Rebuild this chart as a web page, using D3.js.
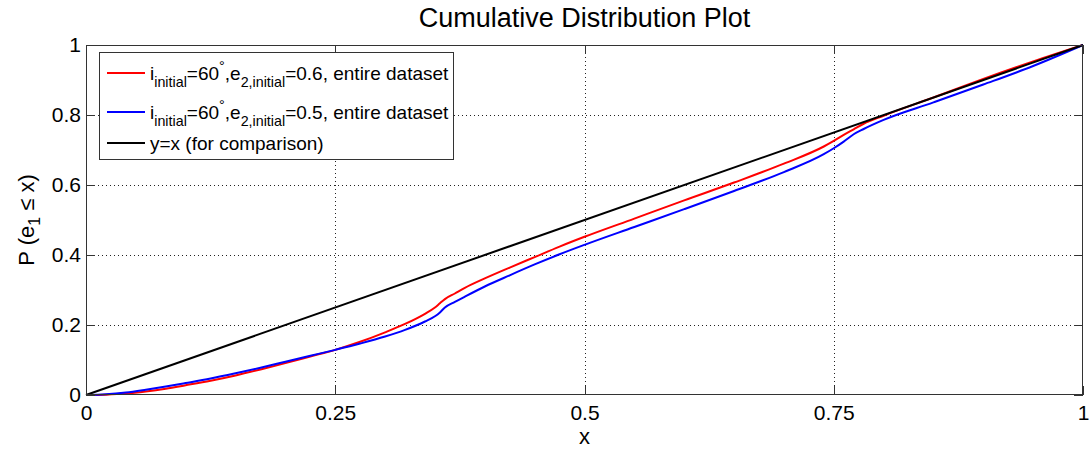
<!DOCTYPE html>
<html>
<head>
<meta charset="utf-8">
<script src="https://cdn.jsdelivr.net/npm/d3@7"></script>
<style>
  html, body { margin: 0; padding: 0; background: #fff; }
  svg { display: block; font-family: "Liberation Sans", Arial, sans-serif; }
</style>
</head>
<body>
<svg id="chart" width="1091" height="453"></svg>
<script>
// Empirical CDF samples of e1 for the two initial configurations
const xs = [0, 0.02, 0.04, 0.06, 0.08, 0.10, 0.125, 0.15, 0.175, 0.20, 0.225, 0.25, 0.275, 0.30, 0.32, 0.34, 0.35, 0.355, 0.36, 0.37, 0.38, 0.40, 0.425, 0.45, 0.475, 0.50, 0.55, 0.60, 0.65, 0.70, 0.74, 0.75, 0.76, 0.77, 0.78, 0.80, 0.85, 0.90, 0.95, 1.0];
const cdfE06 = [0, 0.001, 0.004, 0.010, 0.018, 0.028, 0.041, 0.056, 0.073, 0.091, 0.110, 0.129, 0.152, 0.179, 0.203, 0.232, 0.250, 0.262, 0.274, 0.290, 0.306, 0.333, 0.364, 0.394, 0.424, 0.452, 0.504, 0.556, 0.607, 0.661, 0.710, 0.726, 0.743, 0.759, 0.775, 0.798, 0.850, 0.903, 0.953, 1.0];
const cdfE05 = [0, 0.002, 0.007, 0.015, 0.024, 0.034, 0.047, 0.062, 0.078, 0.095, 0.112, 0.129, 0.147, 0.167, 0.186, 0.210, 0.225, 0.236, 0.250, 0.266, 0.281, 0.310, 0.342, 0.373, 0.402, 0.429, 0.480, 0.531, 0.583, 0.637, 0.688, 0.705, 0.724, 0.745, 0.760, 0.786, 0.836, 0.887, 0.940, 1.0];
const refLine = [0, 1];

const xTicks = [0, 0.25, 0.5, 0.75, 1];
const xTickLabels = ["0", "0.25", "0.5", "0.75", "1"];
const yTicks = [0, 0.2, 0.4, 0.6, 0.8, 1];
const yTickLabels = ["0", "0.2", "0.4", "0.6", "0.8", "1"];

const seriesColors = ["#ff0000", "#0000ff", "#000000"];

const svg = d3.select("#chart");
const W = 1091, H = 453;
const plot = { left: 86, right: 1083, top: 45, bottom: 395 };

svg.append("rect").attr("width", W).attr("height", H).attr("fill", "#fff");

const x = d3.scaleLinear().domain([0, 1]).range([plot.left, plot.right]);
const y = d3.scaleLinear().domain([0, 1]).range([plot.bottom, plot.top]);

// dotted grid
const grid = svg.append("g").attr("stroke", "#222").attr("stroke-width", 1)
  .attr("stroke-dasharray", "1,3").attr("shape-rendering", "crispEdges");
grid.selectAll("line.gx").data(xTicks.slice(1, -1)).join("line")
  .attr("x1", d => Math.round(x(d)) + 0.5).attr("x2", d => Math.round(x(d)) + 0.5)
  .attr("y1", plot.top).attr("y2", plot.bottom);
grid.selectAll("line.gy").data(yTicks.slice(1, -1)).join("line")
  .attr("y1", d => Math.round(y(d)) + 0.5).attr("y2", d => Math.round(y(d)) + 0.5)
  .attr("x1", plot.left).attr("x2", plot.right);

// curves
const line = d3.line().x(d => x(d[0])).y(d => y(d[1])).curve(d3.curveMonotoneX);
const curves = [
  xs.map((v, i) => [v, cdfE06[i]]),
  xs.map((v, i) => [v, cdfE05[i]]),
  refLine.map(v => [v, v])
];
svg.append("g").selectAll("path").data(curves).join("path")
  .attr("d", line)
  .attr("fill", "none")
  .attr("stroke", (d, i) => seriesColors[i])
  .attr("stroke-width", 2)
  .attr("stroke-linejoin", "round");

// axes with inward ticks, mirrored on top and right
const tickFont = 21;
function styleAxis(g) {
  g.select(".domain").remove();
  g.selectAll(".tick line").attr("stroke", "#333").attr("shape-rendering", "crispEdges");
  g.selectAll(".tick text").attr("fill", "#000").attr("font-size", tickFont)
    .attr("font-family", "Liberation Sans, Arial, sans-serif");
}
svg.append("g").attr("transform", `translate(0,${plot.bottom})`)
  .call(d3.axisBottom(x).tickValues(xTicks).tickFormat((d, i) => xTickLabels[i])
    .tickSizeInner(-9).tickSizeOuter(0).tickPadding(10))
  .call(styleAxis);
svg.append("g").attr("transform", `translate(0,${plot.top})`)
  .call(d3.axisTop(x).tickValues(xTicks).tickFormat("").tickSizeInner(-9).tickSizeOuter(0))
  .call(styleAxis);
svg.append("g").attr("transform", `translate(${plot.left},0)`)
  .call(d3.axisLeft(y).tickValues(yTicks).tickFormat((d, i) => yTickLabels[i])
    .tickSizeInner(-9).tickSizeOuter(0).tickPadding(5))
  .call(styleAxis);
svg.append("g").attr("transform", `translate(${plot.right},0)`)
  .call(d3.axisRight(y).tickValues(yTicks).tickFormat("").tickSizeInner(-9).tickSizeOuter(0))
  .call(styleAxis);

// axes box
svg.append("rect")
  .attr("x", plot.left + 0.5).attr("y", plot.top + 0.5)
  .attr("width", plot.right - plot.left - 1).attr("height", plot.bottom - plot.top - 1)
  .attr("fill", "none").attr("stroke", "#333").attr("stroke-width", 1);

// title and axis labels
svg.append("text").attr("x", x(0.5)).attr("y", 27).attr("text-anchor", "middle")
  .attr("font-size", 27).attr("fill", "#000").text("Cumulative Distribution Plot");
svg.append("text").attr("x", x(0.5)).attr("y", 444).attr("text-anchor", "middle")
  .attr("font-size", 22).attr("fill", "#000").text("x");

const yl = svg.append("text").attr("transform", `translate(34,${(plot.top + plot.bottom) / 2}) rotate(-90)`)
  .attr("text-anchor", "middle").attr("font-size", 22).attr("fill", "#000");
yl.append("tspan").text("P (e");
yl.append("tspan").attr("font-size", 16).attr("dy", 6).text("1");
yl.append("tspan").attr("dy", -6).text(" \u2264 x)");

// legend
const legend = { x: 99, y: 52, w: 354, h: 107 };
const lg = svg.append("g");
lg.append("rect").attr("x", legend.x + 0.5).attr("y", legend.y + 0.5)
  .attr("width", legend.w).attr("height", legend.h)
  .attr("fill", "#fff").attr("stroke", "#333").attr("stroke-width", 1);

const legendRows = [
  { e2: "0.6", yLine: 73 },
  { e2: "0.5", yLine: 112 },
  { ref: "y=x (for comparison)", yLine: 143 }
];
const mainFs = 19, subFs = 14.3;
legendRows.forEach((r, i) => {
  lg.append("line").attr("x1", 107).attr("x2", 145)
    .attr("y1", r.yLine).attr("y2", r.yLine)
    .attr("stroke", seriesColors[i]).attr("stroke-width", 2);
  const t = lg.append("text").attr("x", 150).attr("y", r.yLine + 7)
    .attr("font-size", mainFs).attr("fill", "#000");
  if (r.ref) {
    t.text(r.ref);
  } else {
    t.append("tspan").text("i");
    t.append("tspan").attr("font-size", subFs).attr("dy", 7).text("initial");
    t.append("tspan").attr("dy", -7).text("=60");
    t.append("tspan").attr("font-size", subFs).attr("dy", -9).text("\u00b0");
    t.append("tspan").attr("dy", 9).text(",e");
    t.append("tspan").attr("font-size", subFs).attr("dy", 7).text("2,initial");
    t.append("tspan").attr("dy", -7).text(`=${r.e2}, entire dataset`);
  }
});
</script>
</body>
</html>
